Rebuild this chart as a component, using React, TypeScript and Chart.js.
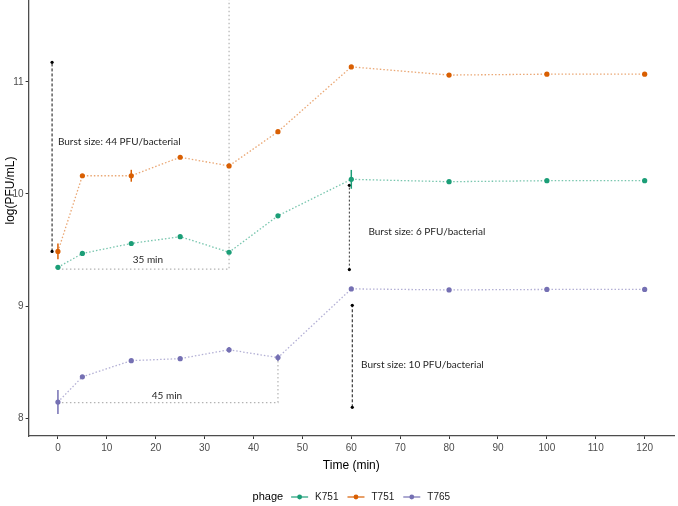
import React, { useEffect, useRef } from "react";
import { Chart, registerables } from "chart.js";

Chart.register(...registerables);

// ---- data ----
const timePoints = [0, 5, 15, 25, 35, 45, 60, 80, 100, 120];
const phageNames = ["K751", "T751", "T765"];
const k751Values = [9.345, 9.469, 9.558, 9.619, 9.48, 9.805, 10.13, 10.109, 10.118, 10.118];
const t751Values = [9.487, 10.162, 10.162, 10.327, 10.25, 10.555, 11.133, 11.06, 11.068, 11.068];
const t765Values = [8.144, 8.369, 8.513, 8.531, 8.61, 8.54, 9.153, 9.144, 9.148, 9.148];
const k751Sd = [0, 0, 0, 0, 0, 0, 0.084, 0, 0, 0];
const t751Sd = [0.07, 0, 0.053, 0, 0, 0, 0, 0, 0, 0];
const t765Sd = [0.107, 0, 0, 0, 0.025, 0.03, 0, 0, 0, 0];
const phageColors = ["#1B9E77", "#D95F02", "#7570B3"];
const phageLineColors = ["rgba(27,158,119,0.6)", "rgba(217,95,2,0.55)", "rgba(117,112,179,0.55)"];

const xTicks = [0, 10, 20, 30, 40, 50, 60, 70, 80, 90, 100, 110, 120];
const yTicks = [8, 9, 10, 11];

const burstLabels = [
  "Burst size: 44 PFU/bacterial",
  "Burst size: 6 PFU/bacterial",
  "Burst size: 10 PFU/bacterial",
];
const burstX = [-1.2, 59.6, 60.2];
const burstLow = [9.487, 9.325, 8.097];
const burstHigh = [11.174, 10.077, 9.006];
const burstLabelX = [0, 63.5, 62];
const burstLabelY = [10.469, 9.664, 8.48];

const latentLabels = ["35 min", "45 min"];
const latentStart = [0, 0];
const latentEnd = [35, 45];
const latentBase = [9.33, 8.139];
const latentTop = [12.02, 8.54];
const latentLabelX = [18.4, 22.3];
const latentLabelY = [9.41, 8.204];

const X_MIN = -6;
const X_MAX = 126;
const Y_MIN = 7.841;
const Y_MAX = 12.22;

const W = 678;
const PAGE_H = 506;
const SHIFT = 59;
const H = PAGE_H + SHIFT;

const seriesValues = [k751Values, t751Values, t765Values];
const seriesSd = [k751Sd, t751Sd, t765Sd];

const errorBarPlugin = {
  id: "errorBars",
  afterDatasetsDraw(chart: any) {
    const { ctx, scales } = chart;
    const x = scales.x;
    const y = scales.y;
    seriesValues.forEach((vals, si) => {
      ctx.save();
      ctx.strokeStyle = phageColors[si];
      ctx.lineWidth = 1.5;
      timePoints.forEach((t, i) => {
        const sd = seriesSd[si][i];
        if (!sd) return;
        const px = x.getPixelForValue(t);
        ctx.beginPath();
        ctx.moveTo(px, y.getPixelForValue(vals[i] - sd));
        ctx.lineTo(px, y.getPixelForValue(vals[i] + sd));
        ctx.stroke();
      });
      ctx.restore();
    });
  },
};

const textPlugin = {
  id: "annotText",
  afterDraw(chart: any) {
    const { ctx, scales } = chart;
    const x = scales.x;
    const y = scales.y;
    ctx.save();
    ctx.fillStyle = "#262626";
    ctx.font = "10px Lato, 'Open Sans', sans-serif";
    ctx.textBaseline = "middle";
    ctx.textAlign = "left";
    burstLabels.forEach((txt, i) => {
      ctx.fillText(txt, x.getPixelForValue(burstLabelX[i]), y.getPixelForValue(burstLabelY[i]));
    });
    ctx.textAlign = "center";
    latentLabels.forEach((txt, i) => {
      ctx.fillText(txt, x.getPixelForValue(latentLabelX[i]), y.getPixelForValue(latentLabelY[i]));
    });
    ctx.restore();

    // legend
    ctx.save();
    const legendY = 497 + SHIFT;
    ctx.textBaseline = "middle";
    ctx.textAlign = "left";
    ctx.font = "11px 'Liberation Sans', Arial, sans-serif";
    const titleText = "phage";
    const titleW = ctx.measureText(titleText).width;
    ctx.font = "10px 'Liberation Sans', Arial, sans-serif";
    const glyphW = 17;
    const itemWidths = phageNames.map((n) => ctx.measureText(n).width);
    const total = titleW + 8 + itemWidths.reduce((a, w) => a + glyphW + 7 + w, 0) + 9 * (phageNames.length - 1);
    let cx = (chart.chartArea.left + chart.chartArea.right) / 2 - total / 2;
    ctx.fillStyle = "#000";
    ctx.font = "11px 'Liberation Sans', Arial, sans-serif";
    ctx.fillText(titleText, cx, legendY);
    cx += titleW + 8;
    ctx.font = "10px 'Liberation Sans', Arial, sans-serif";
    phageNames.forEach((n, i) => {
      ctx.strokeStyle = phageColors[i];
      ctx.lineWidth = 1.2;
      ctx.beginPath();
      ctx.moveTo(cx, legendY);
      ctx.lineTo(cx + glyphW, legendY);
      ctx.stroke();
      ctx.fillStyle = phageColors[i];
      ctx.beginPath();
      ctx.arc(cx + glyphW / 2, legendY, 2.4, 0, Math.PI * 2);
      ctx.fill();
      cx += glyphW + 7;
      ctx.fillStyle = "#1a1a1a";
      ctx.fillText(n, cx, legendY);
      cx += itemWidths[i] + 9;
    });
    ctx.restore();
  },
};

export default function App() {
  const canvasRef = useRef<HTMLCanvasElement | null>(null);

  useEffect(() => {
    const canvas = canvasRef.current;
    if (!canvas) return;

    const seriesDatasets = phageNames.map((name, si) => ({
      label: name,
      data: timePoints.map((t, i) => ({ x: t, y: seriesValues[si][i] })),
      borderColor: phageLineColors[si],
      backgroundColor: phageColors[si],
      pointBackgroundColor: phageColors[si],
      pointBorderWidth: 0,
      pointRadius: 2.6,
      borderWidth: 1.3,
      borderDash: [1.5, 2],
      showLine: true,
      fill: false,
    }));

    const burstDatasets = burstLabels.map((lab, i) => ({
      label: lab,
      data: [
        { x: burstX[i], y: burstLow[i] },
        { x: burstX[i], y: burstHigh[i] },
      ],
      borderColor: i === 1 ? "#333" : "#111",
      backgroundColor: "#000",
      pointBackgroundColor: "#000",
      pointBorderWidth: 0,
      pointRadius: 1.6,
      borderWidth: 1,
      borderDash: i === 1 ? [2, 2] : [3, 2],
      showLine: true,
      fill: false,
    }));

    const latentDatasets = latentLabels.map((lab, i) => ({
      label: lab,
      data: [
        { x: latentStart[i], y: latentBase[i] },
        { x: latentEnd[i], y: latentBase[i] },
        { x: latentEnd[i], y: latentTop[i] },
      ],
      borderColor: "#b3b3b3",
      borderWidth: 1.2,
      borderDash: [1.5, 2.5],
      pointRadius: 0,
      showLine: true,
      fill: false,
    }));

    const chart = new Chart(canvas, {
      type: "scatter",
      data: { datasets: [...seriesDatasets, ...burstDatasets, ...latentDatasets] as any },
      options: {
        responsive: false,
        animation: false,
        devicePixelRatio: 1,
        events: [],
        layout: { padding: { top: 0, left: 0, right: 2.6, bottom: H - (436 + SHIFT) - 37 } },
        plugins: { legend: { display: false }, tooltip: { enabled: false } },
        scales: {
          x: {
            type: "linear",
            min: X_MIN,
            max: X_MAX,
            afterBuildTicks: (s: any) => {
              s.ticks = xTicks.map((v) => ({ value: v }));
            },
            afterFit: (s: any) => {
              s.height = 37;
              s.paddingLeft = 0;
              s.paddingRight = 0;
            },
            grid: { drawOnChartArea: false, drawTicks: true, tickLength: 3, color: "#333" },
            border: { display: true, color: "#4d4d4d", width: 1.3 },
            ticks: {
              font: { family: "'Liberation Sans', Arial, sans-serif", size: 10 },
              color: "#4d4d4d",
              padding: 3,
              maxRotation: 0,
              autoSkip: false,
            },
            title: {
              display: true,
              text: "Time (min)",
              font: { family: "'Liberation Sans', Arial, sans-serif", size: 12 },
              color: "#000",
              padding: { top: 0, bottom: 0 },
            },
          },
          y: {
            type: "linear",
            min: Y_MIN,
            max: Y_MAX,
            afterBuildTicks: (s: any) => {
              s.ticks = yTicks.map((v) => ({ value: v }));
            },
            afterFit: (s: any) => {
              s.width = 28.6;
              s.paddingTop = 0;
              s.paddingBottom = 0;
            },
            grid: { drawOnChartArea: false, drawTicks: true, tickLength: 3, color: "#333" },
            border: { display: true, color: "#4d4d4d", width: 1.3 },
            ticks: {
              font: { family: "'Liberation Sans', Arial, sans-serif", size: 10 },
              color: "#4d4d4d",
              padding: 2,
            },
            title: {
              display: true,
              text: "log(PFU/mL)",
              font: { family: "'Liberation Sans', Arial, sans-serif", size: 12 },
              color: "#000",
              padding: { top: 3, bottom: 0 },
            },
          },
        },
      },
      plugins: [errorBarPlugin, textPlugin],
    });

    return () => chart.destroy();
  }, []);

  return (
    <div
      style={{
        position: "fixed",
        left: 0,
        top: 0,
        width: W,
        height: PAGE_H,
        overflow: "hidden",
        background: "#fff",
      }}
    >
      <canvas
        ref={canvasRef}
        width={W}
        height={H}
        style={{ position: "absolute", left: 0, top: -SHIFT, width: W, height: H }}
      />
    </div>
  );
}
